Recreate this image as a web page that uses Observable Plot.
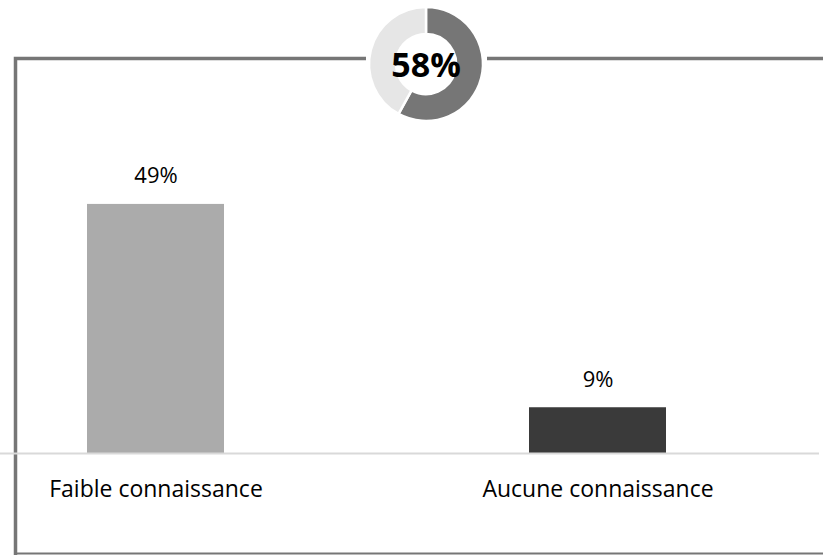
<!DOCTYPE html>
<html>
<head>
<meta charset="utf-8">
<script src="https://cdn.jsdelivr.net/npm/d3@7"></script>
<script src="https://cdn.jsdelivr.net/npm/@observablehq/plot@0.6"></script>
<style>
  html, body { margin: 0; padding: 0; background: #fff; }
  #chart { width: 823px; height: 555px; }
  svg { font-family: "Open Sans", sans-serif; }
</style>
</head>
<body>
<div id="chart"></div>
<script>
const categories = ["Faible connaissance", "Aucune connaissance"];
const values = [49, 9];
const valueLabels = ["49%", "9%"];
const barColors = ["#ababab", "#3a3a3a"];
const totalShare = 58;
const totalLabel = "58%";

const data = categories.map((c, i) => ({cat: c, v: values[i], label: valueLabels[i], color: barColors[i]}));

// decorative frame (not data)
function frame() {
  const g = d3.create("svg:g");
  const col = "#767676";
  g.append("path").attr("d", "M15.5,555 V58.5 H366").attr("fill", "none").attr("stroke", col).attr("stroke-width", 3.5);
  g.append("path").attr("d", "M487,58.5 H823").attr("fill", "none").attr("stroke", col).attr("stroke-width", 3.5);
  g.append("path").attr("d", "M15.5,553.5 H823").attr("fill", "none").attr("stroke", col).attr("stroke-width", 2);
  return g.node();
}

// donut showing the total share
function donut() {
  const g = d3.create("svg:g").attr("transform", "translate(426,64)");
  const pie = d3.pie().sort(null).value(d => d)([totalShare, 100 - totalShare]);
  const arc = d3.arc().innerRadius(30).outerRadius(57);
  g.selectAll("path").data(pie).join("path")
    .attr("d", arc)
    .attr("fill", (d, i) => i === 0 ? "#767676" : "#e6e6e6")
    .attr("stroke", "#fff").attr("stroke-width", 2.5);
  g.append("text").text(totalLabel)
    .attr("text-anchor", "middle").attr("dy", "0.38em")
    .attr("font-size", 34).attr("font-weight", "bold").attr("fill", "#000");
  return g.node();
}

const chart = Plot.plot({
  width: 823,
  height: 555,
  marginLeft: 87,
  marginRight: 156,
  marginTop: 148,
  marginBottom: 102,
  x: {domain: categories, paddingInner: 0.689, paddingOuter: 0, axis: null},
  y: {domain: [0, 60], axis: null},
  marks: [
    frame,
    Plot.barY(data, {x: "cat", y: "v", fill: "color"}),
    Plot.ruleY([0], {stroke: "#d9d9d9", strokeWidth: 2, insetLeft: -87, insetRight: -152}),
    Plot.text(data, {x: "cat", y: "v", text: "label", dy: -28, fontSize: 22, fill: "#000"}),
    Plot.text(data, {x: "cat", y: 0, text: "cat", dy: 36, fontSize: 23, fill: "#000"}),
    donut
  ]
});
document.getElementById("chart").appendChild(chart);
</script>
</body>
</html>
